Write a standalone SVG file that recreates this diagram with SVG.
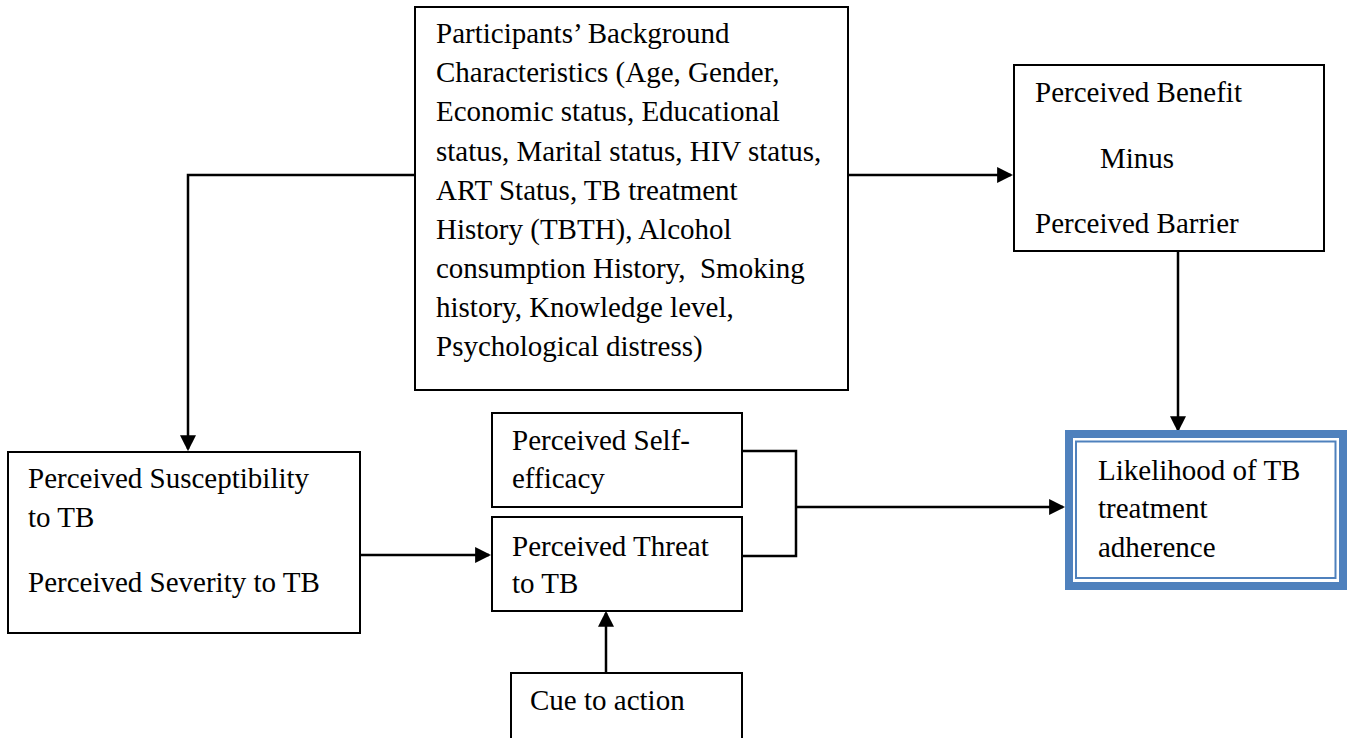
<svg xmlns="http://www.w3.org/2000/svg" width="1347" height="738" viewBox="0 0 1347 738">
  <style>
    .box { fill: #ffffff; stroke: #000000; stroke-width: 2; }
    .t { font-family: "Liberation Serif", "Times New Roman", serif; font-size: 29px; fill: #000000; }
    .c { fill: none; stroke: #000000; stroke-width: 2.5; }
  </style>
  <defs>
    <marker id="arr" markerUnits="userSpaceOnUse" markerWidth="16" markerHeight="16" viewBox="0 0 15 15" refX="13" refY="7.5" orient="auto">
      <path d="M0,0 L15,7.5 L0,15 Z" fill="#000000"/>
    </marker>
  </defs>
  <rect width="1347" height="738" fill="#ffffff"/>

  <g id="connectors">
    <line class="c" x1="848" y1="175" x2="1011" y2="175" marker-end="url(#arr)"/>
    <polyline class="c" points="415,175 188,175 188,449" marker-end="url(#arr)"/>
    <line class="c" x1="360" y1="555" x2="489" y2="555" marker-end="url(#arr)"/>
    <line class="c" x1="606" y1="673" x2="606" y2="613" marker-end="url(#arr)"/>
    <line class="c" x1="1178" y1="251" x2="1178" y2="430" marker-end="url(#arr)"/>
    <polyline class="c" points="742,451 796,451 796,556 742,556"/>
    <line class="c" x1="796" y1="507" x2="1063" y2="507" marker-end="url(#arr)"/>
  </g>

  <g id="background">
    <rect class="box" x="415" y="7" width="433" height="383"/>
    <text class="t" x="436" y="43">Participants’ Background</text>
    <text class="t" x="436" y="82">Characteristics (Age, Gender,</text>
    <text class="t" x="436" y="121">Economic status, Educational</text>
    <text class="t" x="436" y="160.5">status, Marital status, HIV status,</text>
    <text class="t" x="436" y="199.5">ART Status, TB treatment</text>
    <text class="t" x="436" y="238.5">History (TBTH), Alcohol</text>
    <text class="t" x="436" y="277.5" xml:space="preserve">consumption History,  Smoking</text>
    <text class="t" x="436" y="316.5">history, Knowledge level,</text>
    <text class="t" x="436" y="355.5">Psychological distress)</text>
  </g>

  <g id="benefit">
    <rect class="box" x="1014" y="65" width="310" height="186"/>
    <text class="t" x="1035" y="102">Perceived Benefit</text>
    <text class="t" x="1100" y="168">Minus</text>
    <text class="t" x="1035" y="233">Perceived Barrier</text>
  </g>

  <g id="susceptibility">
    <rect class="box" x="8" y="452" width="352" height="181"/>
    <text class="t" x="28" y="488">Perceived Susceptibility</text>
    <text class="t" x="28" y="527">to TB</text>
    <text class="t" x="28" y="592">Perceived Severity to TB</text>
  </g>

  <g id="selfefficacy">
    <rect class="box" x="492" y="413" width="250" height="94"/>
    <text class="t" x="512" y="450">Perceived Self-</text>
    <text class="t" x="512" y="488">efficacy</text>
  </g>

  <g id="threat">
    <rect class="box" x="492" y="517" width="250" height="94"/>
    <text class="t" x="512" y="556">Perceived Threat</text>
    <text class="t" x="512" y="593">to TB</text>
  </g>

  <g id="cue">
    <rect class="box" x="511" y="673" width="231" height="80"/>
    <text class="t" x="530" y="710">Cue to action</text>
  </g>

  <g id="likelihood">
    <rect x="1069" y="434" width="274" height="152" fill="#ffffff" stroke="#4F81BD" stroke-width="8"/>
    <rect x="1076" y="441.5" width="259.5" height="136.5" fill="none" stroke="#4F81BD" stroke-width="2"/>
    <text class="t" x="1098" y="480">Likelihood of TB</text>
    <text class="t" x="1098" y="518">treatment</text>
    <text class="t" x="1098" y="557">adherence</text>
  </g>
</svg>
